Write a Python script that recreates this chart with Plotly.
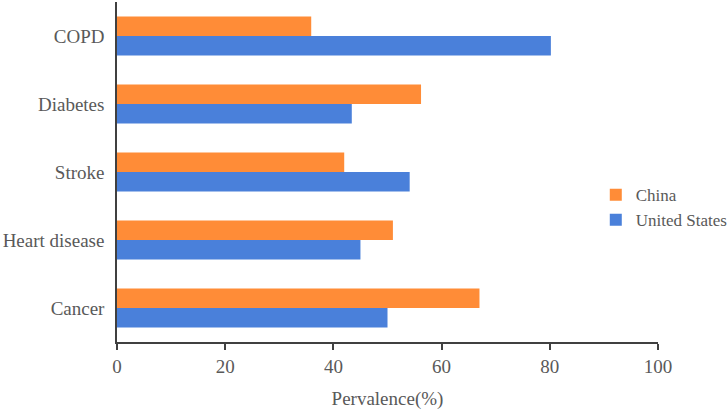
import plotly.graph_objects as go

categories = ["Cancer", "Heart disease", "Stroke", "Diabetes", "COPD"]
china = [67.0, 51.0, 42.0, 56.2, 35.9]
united_states = [50.0, 45.0, 54.1, 43.4, 80.2]
x_ticks = [0, 20, 40, 60, 80, 100]

font_family = "Liberation Serif, Times New Roman, serif"
text_color = "#595959"
axis_color = "#404040"

fig = go.Figure()
fig.add_trace(go.Bar(
    y=categories, x=united_states, orientation="h", name="United States",
    marker=dict(color="#4A80DA", line=dict(width=0)),
))
fig.add_trace(go.Bar(
    y=categories, x=china, orientation="h", name="China",
    marker=dict(color="#FF8C37", line=dict(width=0)),
))

fig.update_layout(
    width=728, height=410,
    margin=dict(l=117, r=70, t=2, b=68, autoexpand=False),
    barmode="group", bargap=0.43, bargroupgap=0,
    plot_bgcolor="white", paper_bgcolor="white",
    font=dict(family=font_family, size=19, color=text_color),
    legend=dict(
        x=0.885, y=0.395, xanchor="left", yanchor="middle",
        traceorder="reversed", bgcolor="rgba(0,0,0,0)",
        font=dict(family=font_family, size=17, color=text_color),
        itemwidth=30, tracegroupgap=4,
    ),
    showlegend=True,
)
fig.update_xaxes(
    range=[0, 100], tickvals=x_ticks, ticktext=[str(v) for v in x_ticks],
    showgrid=False, zeroline=False, automargin=False,
    showline=True, linecolor=axis_color, linewidth=1.5,
    ticks="outside", ticklen=6, tickwidth=1.5, tickcolor=axis_color,
    tickfont=dict(family=font_family, size=19, color=text_color),
    title=dict(text="Pervalence(%)", font=dict(family=font_family, size=19, color=text_color), standoff=16),
)
fig.update_yaxes(
    categoryorder="array", categoryarray=categories,
    showgrid=False, zeroline=False, automargin=False,
    showline=True, linecolor=axis_color, linewidth=1.5,
    ticks="", ticklabelstandoff=7,
    tickfont=dict(family=font_family, size=19, color=text_color),
)

fig.write_html("out.html", config={"displayModeBar": False},
               post_script="document.body.style.margin='0';")
